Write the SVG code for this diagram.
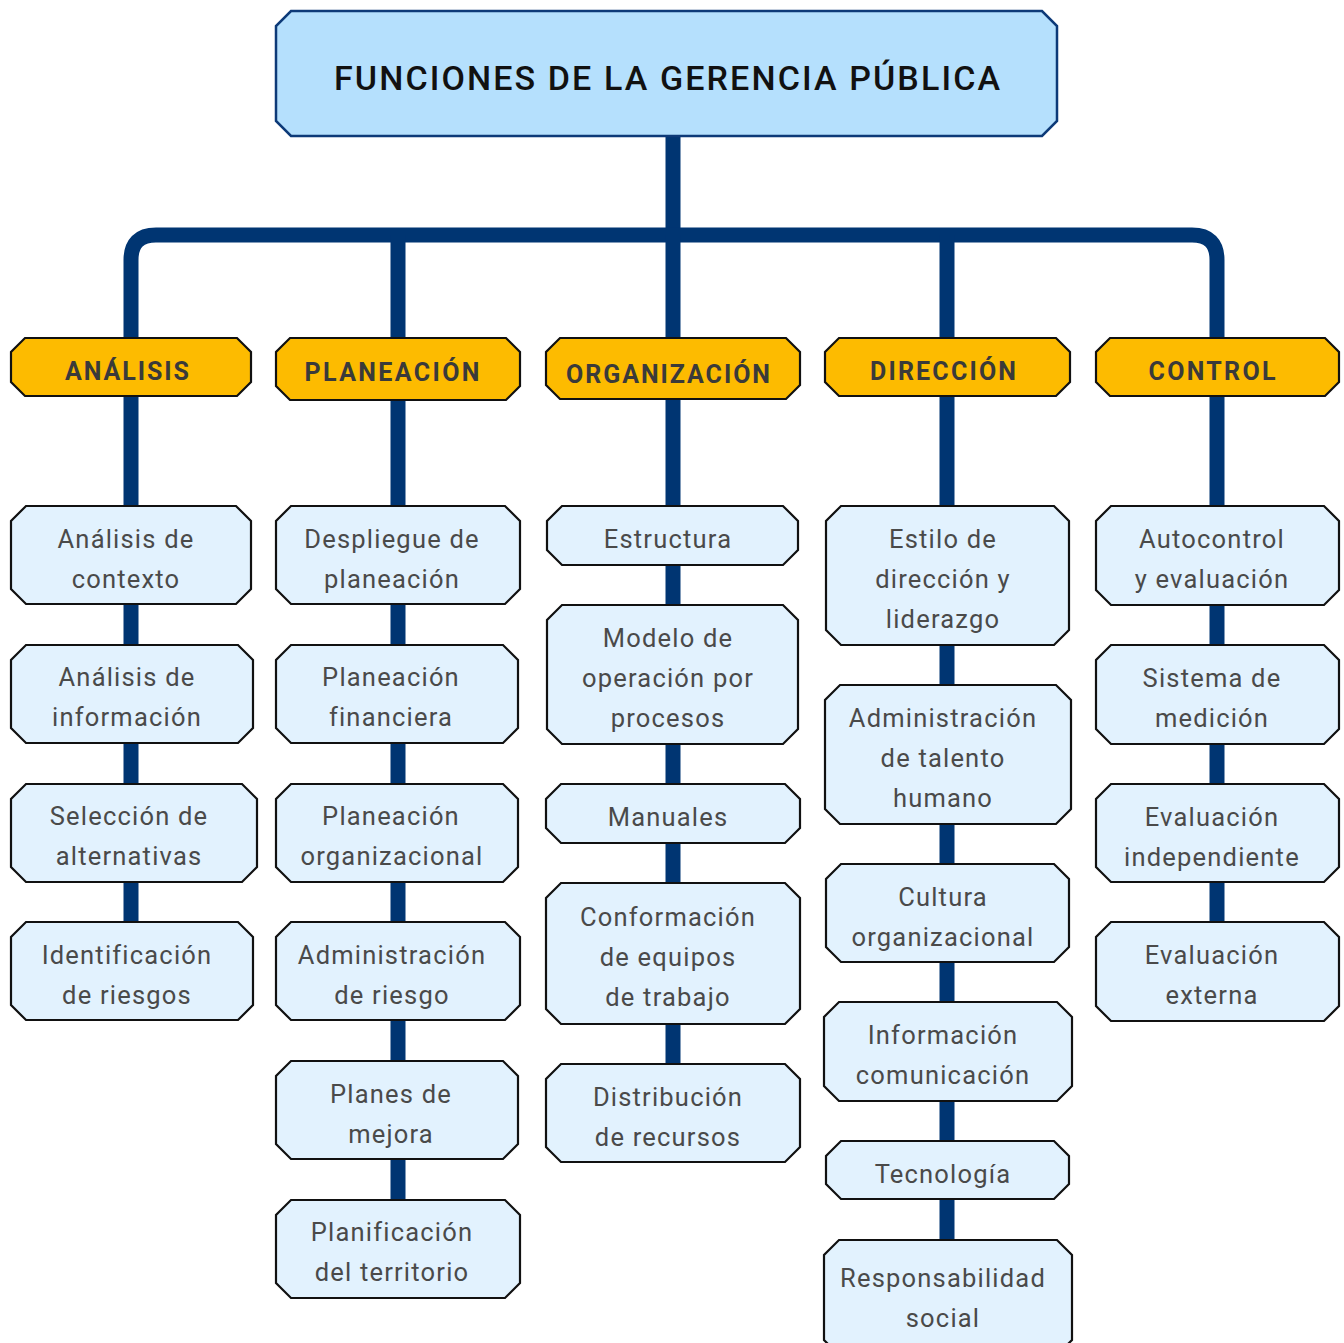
<svg xmlns="http://www.w3.org/2000/svg" width="1344" height="1343" viewBox="0 0 1344 1343">
  <style>
    .bg { fill: #ffffff; }
    .wire { fill: none; stroke: #003572; stroke-width: 15; stroke-linejoin: round; }
    .title-box { fill: #b5e0fd; stroke: #0d3a78; stroke-width: 2.5; }
    .title { font-family: Roboto, "Noto Sans", sans-serif; font-weight: 500; font-size: 34px; fill: #111111; text-anchor: middle; }
    .head-box { fill: #fdbb00; stroke: #111111; stroke-width: 2.2; }
    .head { font-family: Roboto, "Noto Sans", sans-serif; font-weight: 700; font-size: 25px; fill: #3a3a3a; text-anchor: middle; }
    .leaf-box { fill: #e2f2fe; stroke: #111111; stroke-width: 2.2; }
    .leaf { font-family: Roboto, "Noto Sans", sans-serif; font-weight: 400; font-size: 25.5px; fill: #4a4a4a; text-anchor: middle; letter-spacing: 1.2px; }
  </style>

  <rect class="bg" x="0" y="0" width="1344" height="1343"/>

  <!-- connectors: trunk, bus bar and one spine per column -->
  <g id="connectors">
    <path class="wire" d="M673,136 V235"/>
    <path class="wire" d="M131,340 V260 Q131,235 156,235 H1192 Q1217,235 1217,260 V340"/>
    <path class="wire" d="M131,396 V922"/>
    <path class="wire" d="M398,235 V1200"/>
    <path class="wire" d="M673,235 V1064"/>
    <path class="wire" d="M947,235 V1240"/>
    <path class="wire" d="M1217,396 V922"/>
  </g>

  <!-- root -->
  <g id="root">
    <polygon class="title-box" points="291,11 1042,11 1057,26 1057,121 1042,136 291,136 276,121 276,26"/>
    <text class="title" x="667" y="90" textLength="666" lengthAdjust="spacing">FUNCIONES DE LA GERENCIA PÚBLICA</text>
  </g>

  <!-- column headers -->
  <g id="h-analisis">
    <polygon class="head-box" points="25,338 237,338 251,352 251,382 237,396 25,396 11,382 11,352"/>
    <text class="head" x="127" y="380" textLength="124" lengthAdjust="spacing">ANÁLISIS</text>
  </g>
  <g id="h-planeacion">
    <polygon class="head-box" points="290,338 506,338 520,352 520,386 506,400 290,400 276,386 276,352"/>
    <text class="head" x="392" y="381" textLength="175" lengthAdjust="spacing">PLANEACIÓN</text>
  </g>
  <g id="h-organizacion">
    <polygon class="head-box" points="560,338 786,338 800,352 800,385 786,399 560,399 546,385 546,352"/>
    <text class="head" x="668" y="383" textLength="204" lengthAdjust="spacing">ORGANIZACIÓN</text>
  </g>
  <g id="h-direccion">
    <polygon class="head-box" points="839,338 1056,338 1070,352 1070,382 1056,396 839,396 825,382 825,352"/>
    <text class="head" x="943" y="380" textLength="146" lengthAdjust="spacing">DIRECCIÓN</text>
  </g>
  <g id="h-control">
    <polygon class="head-box" points="1110,338 1325,338 1339,352 1339,382 1325,396 1110,396 1096,382 1096,352"/>
    <text class="head" x="1212" y="380" textLength="127" lengthAdjust="spacing">CONTROL</text>
  </g>

  <!-- Análisis -->
  <g id="a1">
    <polygon class="leaf-box" points="26,506 236,506 251,521 251,589 236,604 26,604 11,589 11,521"/>
    <text class="leaf" x="126" y="548">Análisis de</text>
    <text class="leaf" x="126" y="588">contexto</text>
  </g>
  <g id="a2">
    <polygon class="leaf-box" points="26,645 238,645 253,660 253,728 238,743 26,743 11,728 11,660"/>
    <text class="leaf" x="127" y="686">Análisis de</text>
    <text class="leaf" x="127" y="726">información</text>
  </g>
  <g id="a3">
    <polygon class="leaf-box" points="26,784 242,784 257,799 257,867 242,882 26,882 11,867 11,799"/>
    <text class="leaf" x="129" y="825">Selección de</text>
    <text class="leaf" x="129" y="865">alternativas</text>
  </g>
  <g id="a4">
    <polygon class="leaf-box" points="26,922 238,922 253,937 253,1005 238,1020 26,1020 11,1005 11,937"/>
    <text class="leaf" x="127" y="964">Identificación</text>
    <text class="leaf" x="127" y="1004">de riesgos</text>
  </g>

  <!-- Planeación -->
  <g id="p1">
    <polygon class="leaf-box" points="291,506 505,506 520,521 520,589 505,604 291,604 276,589 276,521"/>
    <text class="leaf" x="392" y="548">Despliegue de</text>
    <text class="leaf" x="392" y="588">planeación</text>
  </g>
  <g id="p2">
    <polygon class="leaf-box" points="291,645 503,645 518,660 518,728 503,743 291,743 276,728 276,660"/>
    <text class="leaf" x="391" y="686">Planeación</text>
    <text class="leaf" x="391" y="726">financiera</text>
  </g>
  <g id="p3">
    <polygon class="leaf-box" points="291,784 503,784 518,799 518,867 503,882 291,882 276,867 276,799"/>
    <text class="leaf" x="391" y="825">Planeación</text>
    <text class="leaf" x="392" y="865">organizacional</text>
  </g>
  <g id="p4">
    <polygon class="leaf-box" points="291,922 505,922 520,937 520,1005 505,1020 291,1020 276,1005 276,937"/>
    <text class="leaf" x="392" y="964">Administración</text>
    <text class="leaf" x="392" y="1004">de riesgo</text>
  </g>
  <g id="p5">
    <polygon class="leaf-box" points="291,1061 503,1061 518,1076 518,1144 503,1159 291,1159 276,1144 276,1076"/>
    <text class="leaf" x="391" y="1103">Planes de</text>
    <text class="leaf" x="391" y="1143">mejora</text>
  </g>
  <g id="p6">
    <polygon class="leaf-box" points="291,1200 505,1200 520,1215 520,1283 505,1298 291,1298 276,1283 276,1215"/>
    <text class="leaf" x="392" y="1241">Planificación</text>
    <text class="leaf" x="392" y="1281">del territorio</text>
  </g>

  <!-- Organización -->
  <g id="o1">
    <polygon class="leaf-box" points="562,506 783,506 798,521 798,550 783,565 562,565 547,550 547,521"/>
    <text class="leaf" x="668" y="548">Estructura</text>
  </g>
  <g id="o2">
    <polygon class="leaf-box" points="562,605 783,605 798,620 798,729 783,744 562,744 547,729 547,620"/>
    <text class="leaf" x="668" y="647">Modelo de</text>
    <text class="leaf" x="668" y="687">operación por</text>
    <text class="leaf" x="668" y="727">procesos</text>
  </g>
  <g id="o3">
    <polygon class="leaf-box" points="561,784 785,784 800,799 800,828 785,843 561,843 546,828 546,799"/>
    <text class="leaf" x="668" y="826">Manuales</text>
  </g>
  <g id="o4">
    <polygon class="leaf-box" points="561,883 785,883 800,898 800,1009 785,1024 561,1024 546,1009 546,898"/>
    <text class="leaf" x="668" y="926">Conformación</text>
    <text class="leaf" x="668" y="966">de equipos</text>
    <text class="leaf" x="668" y="1006">de trabajo</text>
  </g>
  <g id="o5">
    <polygon class="leaf-box" points="561,1064 785,1064 800,1079 800,1147 785,1162 561,1162 546,1147 546,1079"/>
    <text class="leaf" x="668" y="1106">Distribución</text>
    <text class="leaf" x="668" y="1146">de recursos</text>
  </g>

  <!-- Dirección -->
  <g id="d1">
    <polygon class="leaf-box" points="841,506 1054,506 1069,521 1069,630 1054,645 841,645 826,630 826,521"/>
    <text class="leaf" x="943" y="548">Estilo de</text>
    <text class="leaf" x="943" y="588">dirección y</text>
    <text class="leaf" x="943" y="628">liderazgo</text>
  </g>
  <g id="d2">
    <polygon class="leaf-box" points="840,685 1056,685 1071,700 1071,809 1056,824 840,824 825,809 825,700"/>
    <text class="leaf" x="943" y="727">Administración</text>
    <text class="leaf" x="943" y="767">de talento</text>
    <text class="leaf" x="943" y="807">humano</text>
  </g>
  <g id="d3">
    <polygon class="leaf-box" points="841,864 1054,864 1069,879 1069,947 1054,962 841,962 826,947 826,879"/>
    <text class="leaf" x="943" y="906">Cultura</text>
    <text class="leaf" x="943" y="946">organizacional</text>
  </g>
  <g id="d4">
    <polygon class="leaf-box" points="839,1002 1057,1002 1072,1017 1072,1086 1057,1101 839,1101 824,1086 824,1017"/>
    <text class="leaf" x="943" y="1044">Información</text>
    <text class="leaf" x="943" y="1084">comunicación</text>
  </g>
  <g id="d5">
    <polygon class="leaf-box" points="841,1141 1054,1141 1069,1156 1069,1184 1054,1199 841,1199 826,1184 826,1156"/>
    <text class="leaf" x="943" y="1183">Tecnología</text>
  </g>
  <g id="d6">
    <polygon class="leaf-box" points="839,1240 1057,1240 1072,1255 1072,1340 1057,1355 839,1355 824,1340 824,1255"/>
    <text class="leaf" x="943" y="1287">Responsabilidad</text>
    <text class="leaf" x="943" y="1327">social</text>
  </g>

  <!-- Control -->
  <g id="c1">
    <polygon class="leaf-box" points="1111,506 1324,506 1339,521 1339,590 1324,605 1111,605 1096,590 1096,521"/>
    <text class="leaf" x="1212" y="548">Autocontrol</text>
    <text class="leaf" x="1212" y="588">y evaluación</text>
  </g>
  <g id="c2">
    <polygon class="leaf-box" points="1111,645 1324,645 1339,660 1339,729 1324,744 1111,744 1096,729 1096,660"/>
    <text class="leaf" x="1212" y="687">Sistema de</text>
    <text class="leaf" x="1212" y="727">medición</text>
  </g>
  <g id="c3">
    <polygon class="leaf-box" points="1111,784 1324,784 1339,799 1339,867 1324,882 1111,882 1096,867 1096,799"/>
    <text class="leaf" x="1212" y="826">Evaluación</text>
    <text class="leaf" x="1212" y="866">independiente</text>
  </g>
  <g id="c4">
    <polygon class="leaf-box" points="1111,922 1324,922 1339,937 1339,1006 1324,1021 1111,1021 1096,1006 1096,937"/>
    <text class="leaf" x="1212" y="964">Evaluación</text>
    <text class="leaf" x="1212" y="1004">externa</text>
  </g>
</svg>
